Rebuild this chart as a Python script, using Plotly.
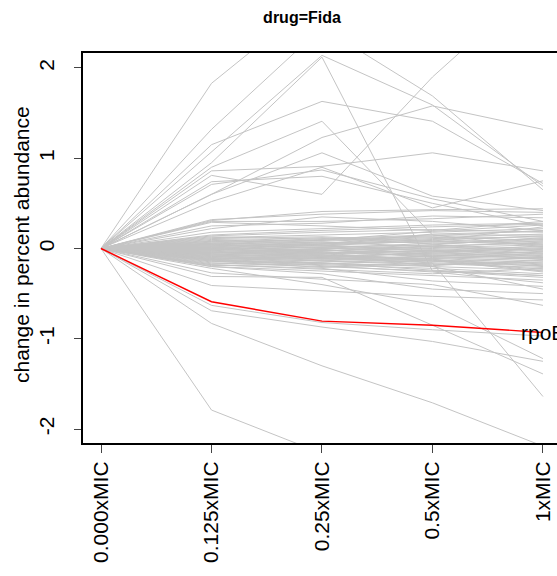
import plotly.graph_objects as go

# concentration categories (x axis)
conc_labels = ["0.000xMIC", "0.125xMIC", "0.25xMIC", "0.5xMIC", "1xMIC"]
baseline = 0.0  # every taxon starts at 0 change at 0.000xMIC

# change in percent abundance for each taxon (same index across arrays)
abund_0125 = [1.83, 1.32, 1.07, 0.95, 1.15, 0.60, 0.90, 0.86, 0.81, 0.71, 0.74, 0.60, 0.52, 0.32, 0.30, 0.29, 0.22, 0.31, 0.25, 0.18,
              -1.79, -0.83, -0.69, -0.63, -0.41, -0.31, -0.22, -0.12, -0.27, -0.20, -0.18, 0.05,
              0.12, 0.10, 0.08, 0.06, 0.05, 0.04, 0.03, 0.02, 0.01, 0.00,
              -0.01, -0.02, -0.03, -0.04, -0.05, -0.06, -0.07, -0.08, -0.09, -0.10,
              -0.11, -0.12, -0.13, -0.14, -0.15, -0.16, -0.17, -0.18, -0.19, 0.14,
              0.13, 0.11, 0.09, 0.07, 0.05, 0.03, 0.01, -0.01, -0.03, -0.05,
              -0.07, -0.09, -0.11, -0.13, -0.06, -0.04, 0.02, -0.02, -0.08, 0.00,
              -0.10, 0.04, -0.14, 0.06, -0.01, 0.15, -0.20, -0.05, 0.08, -0.12]
abund_025 = [2.82, 2.45, 2.14, 2.12, 1.63, 1.23, 1.41, 0.91, 0.60, 0.87, 0.80, 1.06, 0.90, 0.38, 0.30, 0.25, 0.35, 0.41, 0.28, 0.22,
             -2.27, -1.30, -0.87, -0.82, -0.47, -0.32, -0.40, -0.10, -0.34, -0.28, -0.22, -0.05,
             0.15, 0.08, 0.12, 0.03, 0.07, 0.00, 0.05, -0.02, 0.03, -0.04,
             0.02, -0.06, -0.01, -0.08, -0.03, -0.10, -0.05, -0.12, -0.07, -0.14,
             -0.09, -0.16, -0.11, -0.18, -0.13, -0.20, -0.15, -0.23, -0.17, 0.18,
             0.10, 0.13, 0.06, 0.09, 0.01, 0.06, -0.03, 0.01, -0.07, -0.02,
             -0.11, -0.13, -0.08, -0.17, -0.04, -0.09, 0.04, 0.05, -0.06, -0.01,
             -0.16, 0.09, -0.21, 0.11, -0.05, 0.20, -0.25, 0.00, 0.04, -0.19]
abund_05 = [2.95, 1.69, 1.59, -0.25, 1.41, 1.58, 0.15, 1.06, 1.90, 0.55, 0.50, 0.58, 0.45, 0.42, 0.33, 0.20, 0.30, 0.43, 0.36, 0.26,
            -2.60, -1.71, -1.03, -0.90, -0.53, -0.85, -0.62, -0.16, -0.40, -0.45, -0.36, -0.20,
            0.18, 0.12, 0.05, 0.09, 0.02, 0.06, 0.10, -0.04, 0.00, -0.08,
            0.04, -0.03, -0.10, -0.06, 0.03, -0.14, -0.02, -0.09, -0.12, -0.18,
            -0.05, -0.20, -0.15, -0.22, -0.08, -0.25, -0.11, -0.28, -0.13, 0.21,
            0.14, 0.08, 0.11, 0.13, -0.01, 0.07, 0.02, -0.06, -0.11, -0.07,
            -0.04, -0.17, -0.13, -0.19, -0.09, -0.12, 0.08, 0.16, 0.01, 0.04,
            -0.24, 0.19, -0.16, 0.15, -0.14, 0.24, -0.30, -0.02, -0.03, -0.26]
abund_1 = [2.60, 0.65, 0.69, -0.30, 0.72, 1.32, 0.02, 0.86, 3.00, 0.30, 0.25, 0.42, 0.75, 0.40, 0.38, 0.30, 0.20, 0.44, 0.34, 0.28,
           -2.80, -2.19, -1.25, -0.97, -0.57, -1.39, -1.22, -1.64, -0.63, -0.50, -0.42, -0.45,
           0.22, 0.16, 0.10, 0.14, -0.02, 0.08, 0.05, 0.03, -0.05, -0.10,
           0.12, 0.00, -0.14, -0.04, 0.06, -0.18, -0.08, -0.12, -0.20, -0.15,
           -0.01, -0.24, -0.10, -0.28, -0.06, -0.32, -0.16, -0.22, -0.26, 0.18,
           0.20, 0.04, 0.13, 0.09, 0.02, 0.11, 0.07, -0.09, -0.07, -0.11,
           0.01, -0.21, -0.17, -0.13, -0.03, -0.25, 0.24, 0.19, 0.04, -0.03,
           -0.30, 0.26, -0.19, 0.15, -0.23, 0.27, -0.35, -0.06, -0.12, -0.38]

# highlighted taxon
highlight_name = "rpoB"
highlight_vals = [0.0, -0.59, -0.805, -0.85, -0.93]

y_ticks = [-2, -1, 0, 1, 2]
y_title = "change in percent abundance"

FONT = "Liberation Sans, Arial, Helvetica, sans-serif"

xs, ys = [], []
for a, b, c, d in zip(abund_0125, abund_025, abund_05, abund_1):
    xs += conc_labels + [None]
    ys += [baseline, a, b, c, d, None]

fig = go.Figure()
fig.add_trace(go.Scatter(x=xs, y=ys, mode="lines", line=dict(color="#C4C4C4", width=1),
                         connectgaps=False, hoverinfo="skip", showlegend=False))
fig.add_trace(go.Scatter(x=conc_labels, y=highlight_vals, mode="lines",
                         line=dict(color="#FF0000", width=1.4), showlegend=False))

fig.add_annotation(x=conc_labels[-1], y=highlight_vals[-1], text=highlight_name,
                   showarrow=False, xanchor="center", yanchor="middle",
                   font=dict(family=FONT, size=21, color="black"))

# y axis title placed as rotated annotation
fig.add_annotation(xref="paper", yref="paper", x=-(83 - 21) / 474, y=(443 - 245) / 390,
                   text=y_title, textangle=-90, showarrow=False,
                   xanchor="center", yanchor="middle",
                   font=dict(family=FONT, size=21, color="black"))

fig.update_layout(
    width=557, height=576,
    margin=dict(l=83, r=0, t=53, b=133),
    paper_bgcolor="white", plot_bgcolor="white",
    font=dict(family=FONT, size=21, color="black"),
    title=dict(text="<b>drug=Fida</b>", x=302/557, xanchor="center", y=1-17/576, yanchor="middle",
               font=dict(family=FONT, size=16, color="black")),
    showlegend=False,
)
fig.update_xaxes(type="category", categoryorder="array", categoryarray=conc_labels,
                 range=[-0.163, 4.127], showgrid=False, zeroline=False,
                 showline=True, linecolor="black", linewidth=2, mirror=True,
                 ticks="outside", ticklen=8, tickwidth=1, tickcolor="#444",
                 tickangle=-90, tickfont=dict(family=FONT, size=21, color="black"))
fig.update_yaxes(range=[-2.155, 2.166], tickvals=y_ticks, ticktext=[str(v) for v in y_ticks],
                 showgrid=False, zeroline=False,
                 showline=True, linecolor="black", linewidth=2, mirror=False,
                 ticks="outside", ticklen=7, tickwidth=1, tickcolor="#444",
                 tickangle=-90, ticklabelstandoff=12,
                 tickfont=dict(family=FONT, size=21, color="black"))

fig.write_html("out.html")
